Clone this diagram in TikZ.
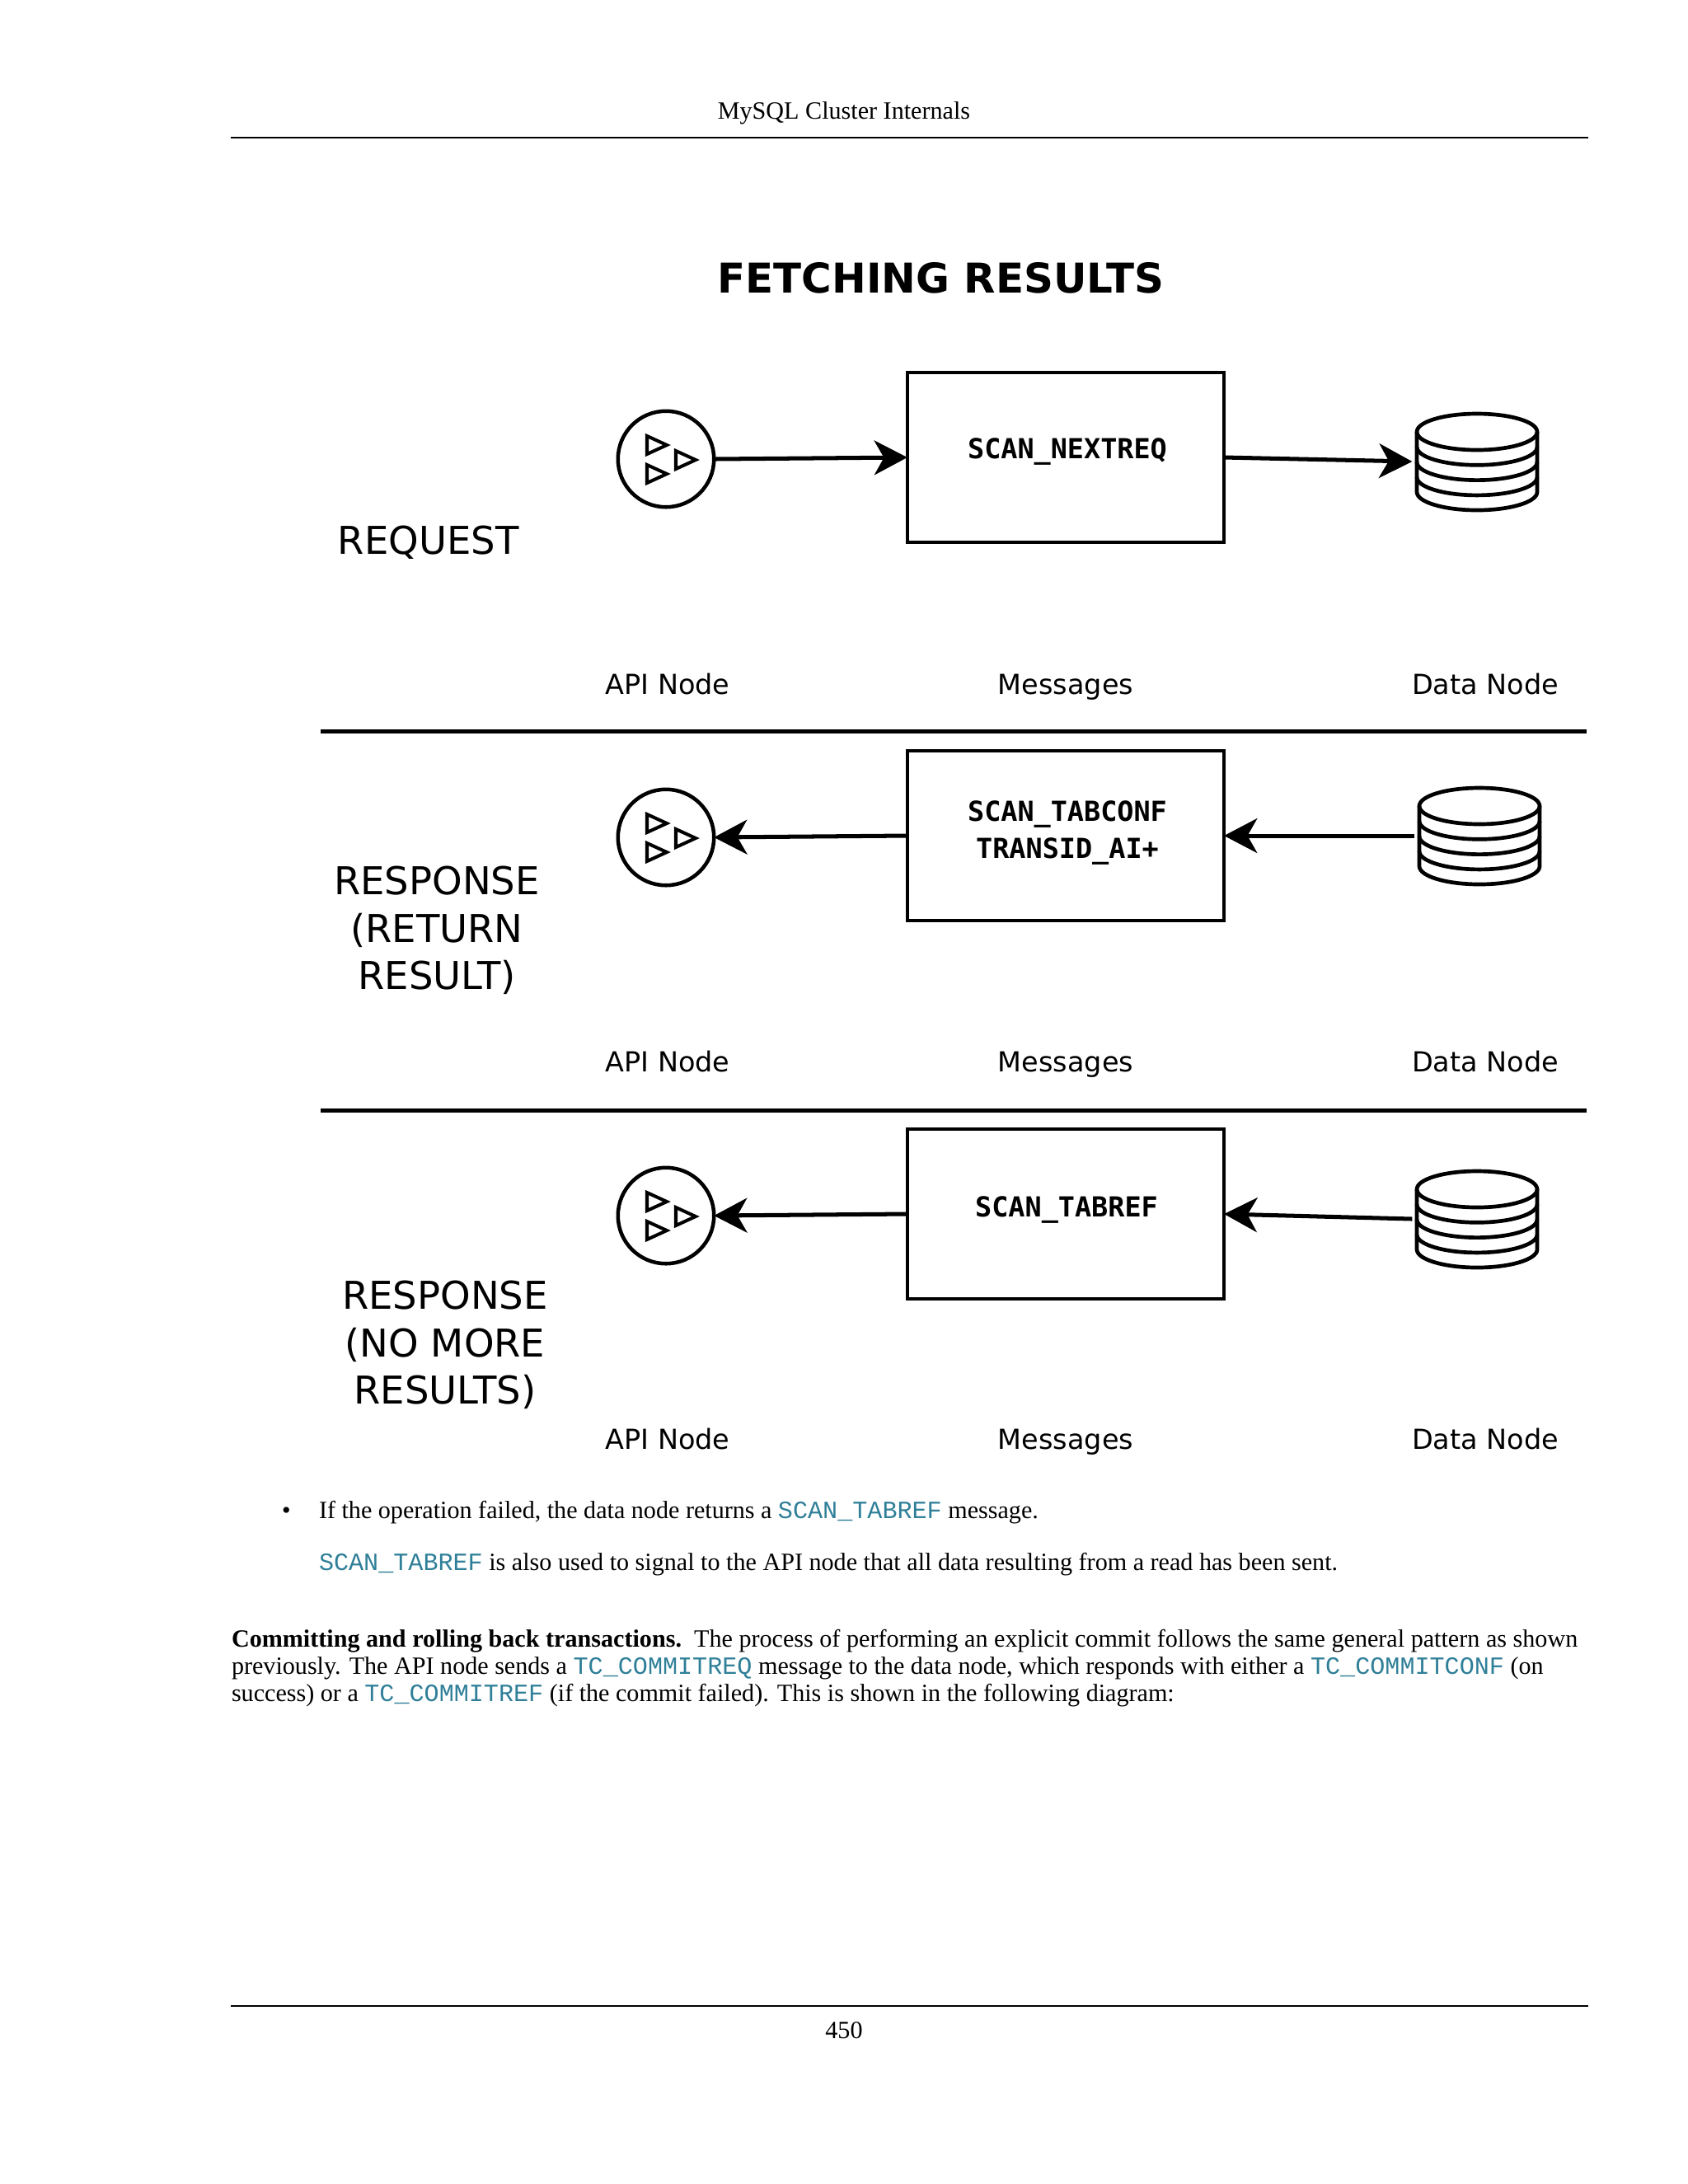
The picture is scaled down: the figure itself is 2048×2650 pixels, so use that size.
\documentclass[tikz,border=0pt]{standalone}
\usepackage{fontspec}
\setmainfont{Liberation Serif}
\setmonofont{Liberation Mono}
\newfontfamily\djv{DejaVu Sans}
\newfontfamily\djm{DejaVu Sans Mono}
\usetikzlibrary{arrows.meta}
\definecolor{linkteal}{HTML}{2F7F98}
\newcommand{\lnk}[1]{{\ttfamily\color{linkteal}#1}}
\tikzset{
  tx/.style={inner sep=0pt,outer sep=0pt,anchor=base west,font=\fontsize{9}{10}\selectfont},
  ctr/.style={inner sep=0pt,outer sep=0pt,anchor=base,font=\fontsize{9}{10}\selectfont},
  titletx/.style={inner sep=0pt,anchor=base west,font=\djv\bfseries\fontsize{14.9}{17}\selectfont},
  rowlabel/.style={inner sep=0pt,align=center,font=\djv\fontsize{13.9}{17.2}\selectfont},
  collabel/.style={inner sep=0pt,anchor=base,font=\djv\fontsize{10}{12}\selectfont},
  msgbox/.style={draw,line width=1.4pt,minimum width=114.8pt,minimum height=61.6pt,inner sep=0pt,outer sep=0pt},
  msgtx/.style={inner sep=0pt,anchor=base,align=center,font=\djm\bfseries\fontsize{10}{12}\selectfont},
  apinode/.style={circle,draw,line width=1.35pt,minimum size=34.8pt,inner sep=0pt,outer sep=0pt},
  datanode/.style={inner sep=0pt,outer sep=0pt,minimum width=47pt,minimum height=35pt},
  conn/.style={line width=1.5pt,-{Stealth[length=12pt,width=12.5pt,inset=3.5pt]}},
  rulebar/.style={line width=1.5pt},
  thinrule/.style={line width=0.6pt},
  apitri/.style={line width=1.2pt,line join=miter},
  dbline/.style={line width=1.4pt}
}
\newcommand{\apiicon}[1]{%
  \begin{scope}[shift={(#1.center)}]
    \draw[apitri] (-23,-28) -- (-23,-6) -- (1,-17) -- cycle;
    \draw[apitri] (-23,7) -- (-23,29) -- (1,18) -- cycle;
    \draw[apitri] (12,-10) -- (12,12) -- (36,1) -- cycle;
  \end{scope}}
\newcommand{\dbicon}[1]{%
  \begin{scope}[shift={(#1.center)}]
    \draw[dbline] (0,-36) ellipse [x radius=73,y radius=22];
    \foreach \d in {18.3,36.6,54.9} {
      \draw[dbline] (-73,-36+\d) arc [start angle=180,end angle=360,x radius=73,y radius=-22];
    }
    \draw[dbline] (-73,-36) -- (-73,37) arc [start angle=180,end angle=360,x radius=73,y radius=-22] -- (73,-36);
  \end{scope}}
\begin{document}
\begin{tikzpicture}[x=0.2988pt,y=-0.2988pt]
\useasboundingbox (0,0) rectangle (2048,2650);
% page furniture
\node[ctr] (head) at (1024,144) {MySQL Cluster Internals};
\coordinate (hl) at (280,167); \coordinate (hr) at (1927,167);
\draw[thinrule] (hl) -- (hr);
\coordinate (fl) at (280,2434); \coordinate (fr) at (1927,2434);
\draw[thinrule] (fl) -- (fr);
\node[ctr] (foot) at (1024,2473) {450};
% title
\node[titletx] (title) at (870,355) {FETCHING RESULTS};
% row labels
\node[rowlabel,anchor=base west] (req) at (409,672) {REQUEST};
\node[rowlabel] (resp1) at (530,1129) {RESPONSE\\(RETURN\\RESULT)};
\node[rowlabel] (resp2) at (540,1632) {RESPONSE\\(NO MORE\\RESULTS)};
% separators
\coordinate (s1l) at (389,887); \coordinate (s1r) at (1925,887);
\coordinate (s2l) at (389,1347); \coordinate (s2r) at (1925,1347);
\draw[rulebar] (s1l) -- (s1r);
\draw[rulebar] (s2l) -- (s2r);
% row 1
\node[apinode] (api1) at (808,557) {};
\node[msgbox] (box1) at (1293,555) {};
\node[msgtx] (m1) at (1295,556) {SCAN\_NEXTREQ};
\node[datanode] (db1) at (1792,560) {};
\apiicon{api1}\dbicon{db1}
\draw[conn] (api1.east) -- (box1.west);
\draw[conn] (box1.east) -- (db1.west);
% row 2
\node[apinode] (api2) at (808,1016) {};
\node[msgbox] (box2) at (1293,1014) {};
\node[msgtx] (m2a) at (1295,996) {SCAN\_TABCONF};
\node[msgtx] (m2b) at (1295,1041) {TRANSID\_AI+};
\node[datanode] (db2) at (1795,1014) {};
\apiicon{api2}\dbicon{db2}
\draw[conn] (box2.west) -- (api2.east);
\draw[conn] (db2.west) -- (box2.east);
% row 3
\node[apinode] (api3) at (808,1475) {};
\node[msgbox] (box3) at (1293,1473) {};
\node[msgtx] (m3) at (1294,1476) {SCAN\_TABREF};
\node[datanode] (db3) at (1792,1479) {};
\apiicon{api3}\dbicon{db3}
\draw[conn] (box3.west) -- (api3.east);
\draw[conn] (db3.west) -- (box3.east);
% column labels
\foreach \y/\n in {842/a,1300/b,1758/c} {
  \node[collabel] (api\n) at (810,\y) {API Node};
  \node[collabel] (msg\n) at (1293,\y) {Messages};
  \node[collabel] (dat\n) at (1802,\y) {Data Node};
}
% body text
\node[tx] (bul) at (342,1842) {•};
\node[tx] (l1) at (387,1842) {If the operation failed, the data node returns a \lnk{SCAN\_TABREF} message.};
\node[tx] (l2) at (387,1905) {\lnk{SCAN\_TABREF} is also used to signal to the API node that all data resulting from a read has been sent.};
\node[tx] (p1) at (281,1998) {\makebox[488pt][s]{\textbf{Committing and rolling back transactions.}\hspace{0.5em}The process of performing an explicit commit follows the same general pattern as shown}};
\node[tx] (p2) at (281,2031) {previously. The API node sends a \lnk{TC\_COMMITREQ} message to the data node, which responds with either a \lnk{TC\_COMMITCONF} (on};
\node[tx] (p3) at (281,2064) {success) or a \lnk{TC\_COMMITREF} (if the commit failed). This is shown in the following diagram:};
\end{tikzpicture}
\end{document}
